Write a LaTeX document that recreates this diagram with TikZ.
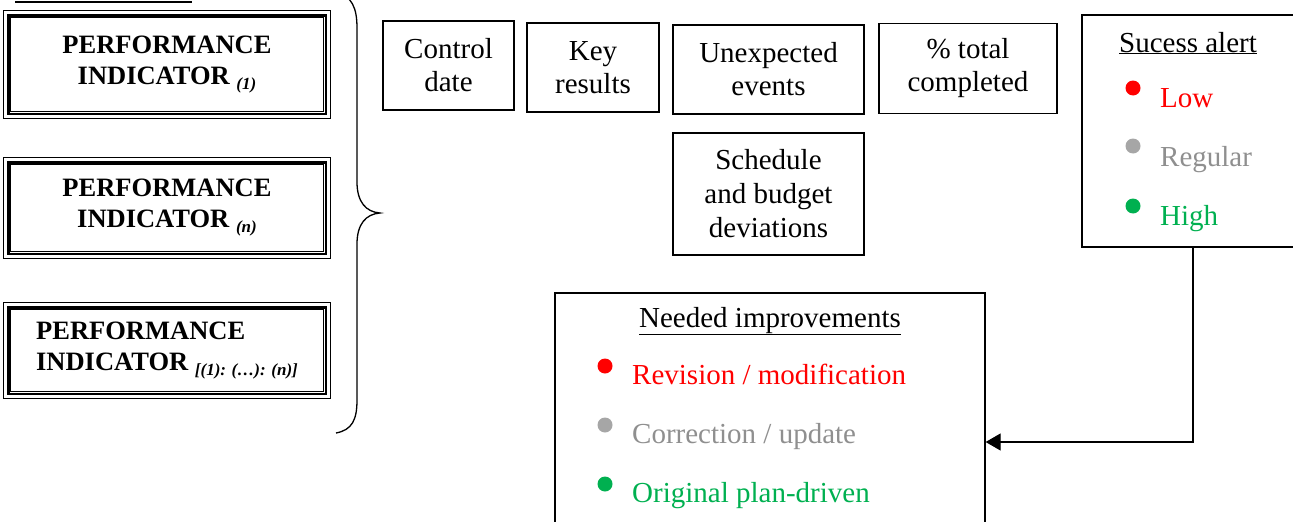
\documentclass[tikz,border=0pt]{standalone}
\usepackage{fontspec}
\setmainfont{Liberation Serif}
\usetikzlibrary{arrows.meta}
\definecolor{lowred}{HTML}{FF0000}
\definecolor{regdot}{HTML}{A6A6A6}
\definecolor{regtext}{HTML}{8F8F8F}
\definecolor{highgreen}{HTML}{00B050}
\newcommand\idx[1]{\raisebox{-5pt}{\fontsize{17}{17}\selectfont\bfseries\itshape #1}}
\tikzset{
  item/.style={draw, line width=1.2pt, inner sep=0pt, align=center,
    font=\fontsize{29}{33}\selectfont},
  indicator/.style={draw, line width=2.4pt, inner sep=0pt, align=center,
    font=\fontsize{26.5}{31}\selectfont\bfseries},
  thinrule/.style={line width=0.9pt},
  dot/.style={circle, fill, inner sep=0pt, minimum size=15pt},
  entry/.style={anchor=base west, inner sep=0pt, font=\fontsize{29}{32}\selectfont},
  heading/.style={anchor=base, inner sep=0pt, font=\fontsize{29}{32}\selectfont},
  panel/.style={draw, line width=1.3pt, inner sep=0pt},
}
\begin{document}
\begin{tikzpicture}[x=1pt,y=-1pt]
\clip (0,0) rectangle (1293,522);

% rule above the indicator column
\draw[line width=1.2pt] (15,2) -- (192,2);

% performance indicators (thin-thick-thin frames)
\node[indicator, minimum width=317.4pt, minimum height=98.4pt] (p1) at (167,64.5)
  {PERFORMANCE\\INDICATOR \idx{(1)}};
\node[indicator, minimum width=317.4pt, minimum height=91.4pt] (p2) at (167,208)
  {PERFORMANCE\\INDICATOR \idx{(n)}};
\node[indicator, minimum width=317.4pt, minimum height=86.4pt, align=left] (p3) at (167,350.5)
  {PERFORMANCE\\INDICATOR \idx{[(1): (…): (n)]}};
\foreach \n in {p1,p2,p3} {
  \draw[thinrule] ([shift={(-3.3,-3.3)}]\n.north west) rectangle ([shift={(3.3,3.3)}]\n.south east);
  \draw[thinrule] ([shift={(3.3,3.3)}]\n.north west) rectangle ([shift={(-3.3,-3.3)}]\n.south east);
}

% brace grouping the indicators
\draw[line width=1.3pt] (336,-8) .. controls (352,-4) and (357,8) .. (357,28)
  -- (357,182) .. controls (357,202) and (366,212) .. (380,213)
  .. controls (366,214) and (357,224) .. (357,244)
  -- (357,400) .. controls (357,420) and (352,430) .. (336,433);

% monitored items
\node[item, minimum width=131pt, minimum height=89pt] (ctrl) at (448.5,65.5) {Control\\date};
\node[item, minimum width=132pt, minimum height=89pt] (key) at (593,67.5) {Key\\results};
\node[item, minimum width=191pt, minimum height=89pt] (unexp) at (768.5,69.5) {Unexpected\\events};
\node[item, minimum width=178pt, minimum height=90pt] (pct) at (968,68.5) {\% total\\completed};
\node[item, minimum width=191pt, minimum height=122pt, font=\fontsize{29}{34}\selectfont]
  (sched) at (768.5,194) {Schedule\\and budget\\deviations};

% success alert panel
\node[panel, minimum width=228pt, minimum height=232pt] (alert) at (1196,131) {};
\node[heading] (alerttitle) at (1188,52) {\underline{Sucess alert}};
\node[dot, lowred] (d1) at (1133,88) {};
\node[entry, text=lowred] (low) at (1160,107) {Low};
\node[dot, regdot] (d2) at (1133,146) {};
\node[entry, text=regtext] (reg) at (1160,166) {Regular};
\node[dot, highgreen] (d3) at (1133,206) {};
\node[entry, text=highgreen] (high) at (1160,225) {High};

% needed improvements panel
\node[panel, minimum width=430pt, minimum height=298pt] (needs) at (770,442) {};
\node[heading] (needstitle) at (770,327) {\underline{Needed improvements}};
\node[dot, lowred] (e1) at (605,366) {};
\node[entry, text=lowred] (rev) at (632,384) {Revision / modification};
\node[dot, regdot] (e2) at (605,425) {};
\node[entry, text=regtext] (corr) at (632,443) {Correction / update};
\node[dot, highgreen] (e3) at (605,484) {};
\node[entry, text=highgreen] (orig) at (632,502) {Original plan-driven};

% alert feeds the improvements
\coordinate (drop) at (1193,247);
\draw[line width=1.3pt, -{Triangle[length=15pt,width=17pt]}] (drop) |- (needs.east);
\end{tikzpicture}
\end{document}
